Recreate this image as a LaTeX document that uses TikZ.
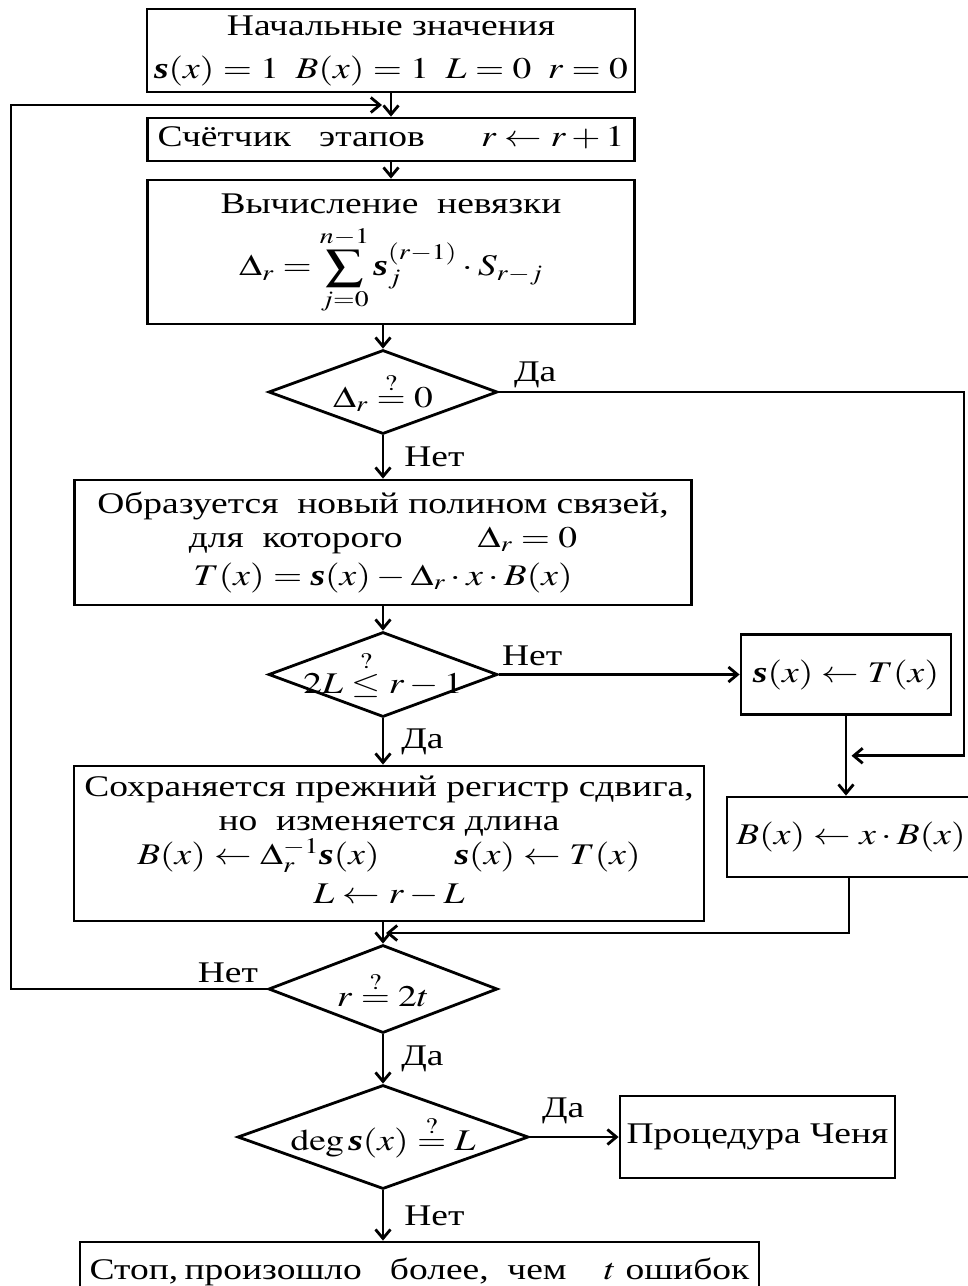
\documentclass[tikz,border=0pt]{standalone}
\usepackage{amsmath}
\usepackage{mathptmx}
\usepackage{graphicx}
\usepackage{fontspec}
\setmainfont{Liberation Serif}
\usetikzlibrary{shapes.geometric,arrows.meta,positioning,calc}

\newcommand{\sg}{\mbox{\bfseries\itshape s}}
\newcommand{\qeq}{\stackrel{?}{=}}
% the scanned chart is wider than plain Times
\newcommand{\widebox}[1]{\scalebox{1.25}[1]{#1}}
\newcommand{\wideln}[1]{\widebox{\begin{tabular}{@{}c@{}}#1\end{tabular}}}

\begin{document}
\begin{tikzpicture}[
  x=1pt, y=1pt,
  font=\fontsize{30}{34}\selectfont,
  blk/.style={draw, line width=2.8pt, inner sep=0pt},
  dia/.style={draw, diamond, line width=2.8pt, inner sep=0pt},
  arr/.style={-{Straight Barb[length=9pt,width=15pt]}, line width=2.8pt},
  lbl/.style={inner sep=1pt}
]
\useasboundingbox (0,0) rectangle (968,-1286);

% main column
\node[blk, minimum width=488pt, minimum height=83pt] (init) at (391,-50.5)
  {\wideln{Начальные значения\\[9pt] $\sg(x)=1\;\;B(x)=1\;\;L=0\;\;r=0$}};
\node[blk, minimum width=487pt, minimum height=43pt] (cnt) at (391,-139.5)
  {\wideln{Счётчик\ \ \ этапов\quad\ \ $r\leftarrow r+1$}};
\node[blk, minimum width=487pt, minimum height=144pt] (calc) at (391,-252)
  {\wideln{Вычисление\ \ невязки\\[2pt]
   $\Delta_r=\displaystyle\sum_{j=0}^{n-1}\sg_j^{(r-1)}\cdot S_{r-j}$}};
\node[dia, minimum width=229pt, minimum height=84pt,
  label=center:{\widebox{$\Delta_r\qeq 0$}}] (d1) at (383,-392) {};
\node[blk, minimum width=617pt, minimum height=125pt] (form) at (383,-542.5)
  {\wideln{Образуется\ \ новый полином связей,\\ для\ \ которого\qquad $\Delta_r=0$\\[4pt]
   $T(x)=\sg(x)-\Delta_r\cdot x\cdot B(x)$}};
\node[dia, minimum width=229pt, minimum height=85pt,
  label=center:{\widebox{$2L\stackrel{?}{\le}r-1$}}] (d2) at (383,-674.5) {};
\node[blk, minimum width=630pt, minimum height=155pt] (keep) at (389,-843.5)
  {\wideln{Сохраняется прежний регистр сдвига,\\ но\ \ изменяется длина\\
   $B(x)\leftarrow\Delta_r^{\smash{-1}}\sg(x)\qquad\sg(x)\leftarrow T(x)$\\[5pt] $L\leftarrow r-L$}};
\node[dia, minimum width=229pt, minimum height=88pt,
  label=center:{\widebox{$r\qeq 2t$}}] (d3) at (383,-989) {};
\node[dia, minimum width=291pt, minimum height=104pt,
  label=center:{\widebox{$\deg\sg(x)\qeq L$}}] (d4) at (383,-1137) {};
\node[blk, minimum width=679pt, minimum height=60pt] (stop) at (419.5,-1272)
  {\widebox{Стоп,\,произошло\ \ \ более,\ \ чем\quad $t$\ ошибок}};

% right column
\node[blk, minimum width=210pt, minimum height=80pt] (sT) at (846,-674.5)
  {\widebox{$\sg(x)\leftarrow T(x)$}};
\node[blk, minimum width=248pt, minimum height=80pt] (Bx) at (851,-837)
  {\widebox{$B(x)\leftarrow x\cdot B(x)$}\hspace{6pt}};
\node[blk, minimum width=275pt, minimum height=82pt] (chen) at (757.5,-1137)
  {\widebox{Процедура Ченя}};

\coordinate (lf) at (11,0);
\coordinate (rt) at (964,0);
\coordinate (jn0) at ($(init.south)!0.5!(cnt.north)$);
\coordinate (jn1) at ($(sT.south)!0.5!(Bx.north)$);
\coordinate (jn2) at ($(keep.south -| d3.north)!0.5!(d3.north)$);

\draw[arr] (init) -- (cnt);
\draw[arr] (cnt) -- (calc);
\draw[arr] (calc.south -| d1.north) -- (d1.north);
\draw[arr] (d1) -- node[lbl, right=19pt] (no1) {\widebox{Нет}} (form);
\draw[arr] (form) -- (d2);
\draw[arr] (d2.south) -- node[lbl, right=16pt] (yes2) {\widebox{Да}} (d2.south |- keep.north);
\draw[arr] (d2.east) -- (sT.west);
\draw[arr] (sT) -- (Bx.north -| sT.south);
\draw[arr] (d1.east) -- (d1.east -| rt) |- ([xshift=3pt]jn1);
\draw[arr] (keep.south -| d3.north) -- (d3.north);
\draw[arr] ([xshift=3pt]Bx.south -| sT.south) |- ([xshift=3pt]jn2);
\draw[arr] (d3.west) -- (d3.west -| lf) |- ([xshift=-9pt]jn0);
\draw[arr] (d3) -- node[lbl, right=16pt] (yes3) {\widebox{Да}} (d4);
\draw[arr] (d4) -- (chen);
\draw[arr] (d4) -- node[lbl, right=19pt] (no4) {\widebox{Нет}} (d4.south |- stop.north);

\node[lbl, above right=3pt and 14pt] (yes1) at (d1.east) {\widebox{Да}};
\node[lbl, above right=8pt and 2pt] (no2) at (d2.east) {\widebox{Нет}};
\node[lbl, above left=5pt and 8pt] (no3) at (d3.west) {\widebox{Нет}};
\node[lbl, above right=12pt and 11pt] (yes4) at (d4.east) {\widebox{Да}};
\end{tikzpicture}
\end{document}
